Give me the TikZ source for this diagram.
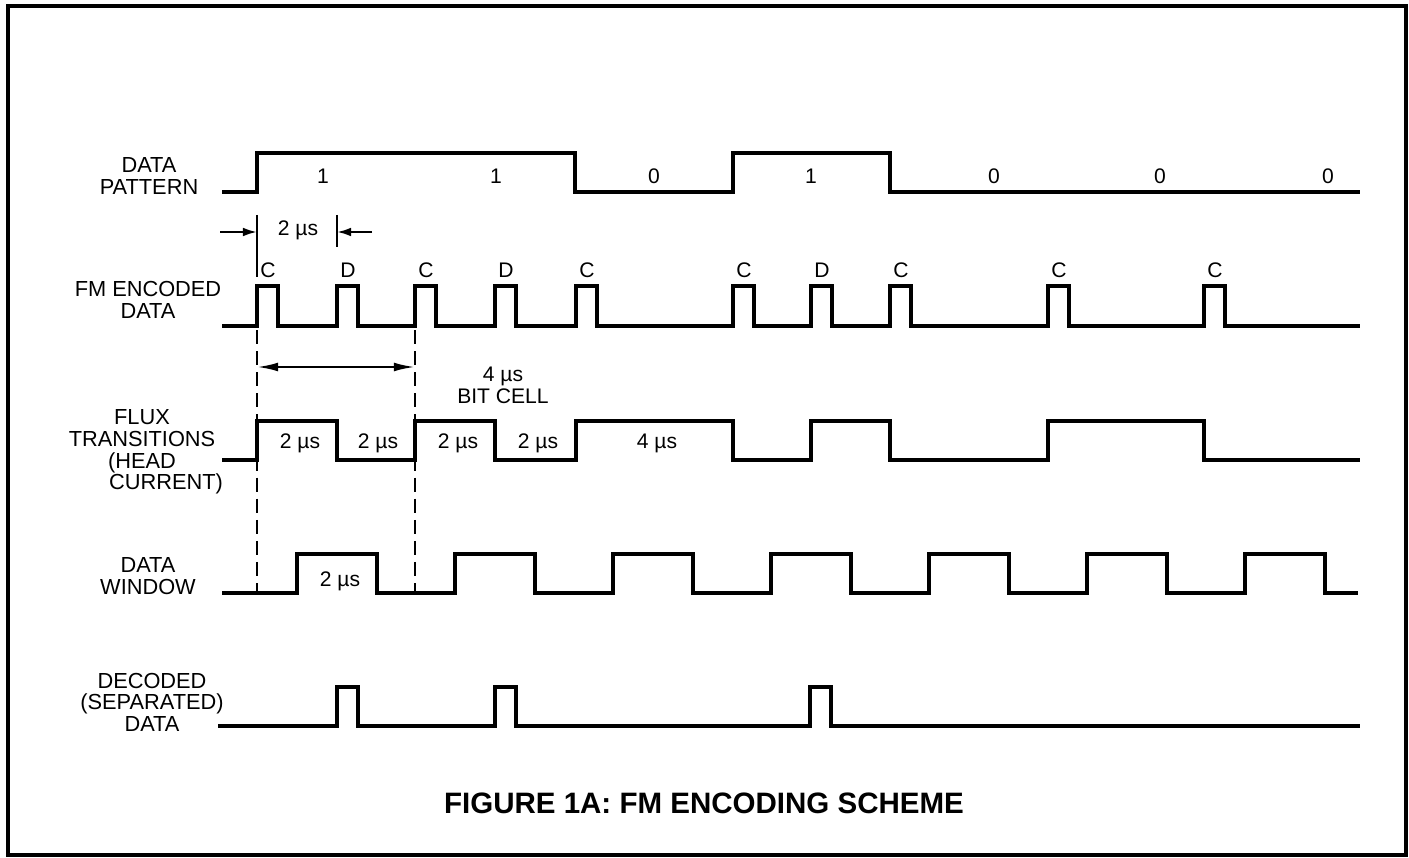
\documentclass[tikz,border=0pt]{standalone}
\usepackage{fontspec}
\setmainfont{Liberation Sans}
\usetikzlibrary{arrows.meta}

\begin{document}
\begin{tikzpicture}[
    x=0.02cm, y=-0.02cm,
    every node/.style={font=\fontsize{12}{12.5}\selectfont, inner sep=0pt},
    siglabel/.style={align=center, font=\fontsize{12.4}{12.3}\selectfont},
    wave/.style={line width=2pt, line join=miter},
    dim/.style={line width=1.3pt},
    cellline/.style={line width=1.6pt, dash pattern=on 8pt off 4pt},
    title/.style={font=\fontsize{16.8}{18}\selectfont\bfseries}
]
    \useasboundingbox (0,0) rectangle (1409,858);
    \draw[line width=2pt] (8,6) rectangle (1406,855);

    % Signal names
    \node[siglabel] (pat) at (149,176) {DATA\\PATTERN};
    \node[siglabel] (fm) at (148,300) {FM ENCODED\\DATA};
    \node[siglabel] (flux) at (142,452) {FLUX\\TRANSITIONS\\(HEAD\\\hspace*{2.2em}CURRENT)};
    \node[siglabel] (win) at (148,576) {DATA\\WINDOW};
    \node[siglabel] (dec) at (152,702) {DECODED\\(SEPARATED)\\DATA};

    % Data pattern
    \draw[wave] (222,192) -| (257,153) -| (575,192) -| (733,153) -| (890,192) -- (1360,192);
    \foreach \x/\b in {323/1,496/1,654/0,811/1,994/0,1160/0,1328/0}
        \node (bit\x) at (\x,176) {\b};

    % FM encoded data
    \draw[wave] (222,326) foreach \x in {257,337,415,495,576,733,811,890,1048,1204} { -| (\x,286) -| (\x+21,326) } -- (1360,326);
    \foreach \x/\t in {257/C,337/D,415/C,495/D,576/C,733/C,811/D,890/C,1048/C,1204/C}
        \node (cd\x) at (\x+11,270) {\t};

    % 2 us spacing
    \draw[dim] (257,215) -- (257,277);
    \draw[dim] (337,215) -- (337,247);
    \draw[dim, -{Latex[length=8pt,width=5pt]}] (220,232) -- (257,232);
    \draw[dim, -{Latex[length=8pt,width=5pt]}] (372,232) -- (337,232);
    \node (half) at (298,230) {2 µs};

    % Bit cell
    \coordinate (cA) at (257,330);
    \coordinate (cB) at (415,330);
    \draw[cellline] (cA) -- (257,593);
    \draw[cellline] (cB) -- (415,593);
    \draw[dim, {Latex[length=12pt,width=5pt]}-{Latex[length=12pt,width=5pt]}] (257,367) -- (415,367);
    \node[align=center] (cell) at (503,385) {4 µs\\BIT CELL};

    % Flux transitions
    \draw[wave] (222,460) -| (257,421) -| (337,460) -| (415,421) -| (495,460) -| (576,421) -| (733,460) -| (811,421) -| (890,460) -| (1048,421) -| (1204,460) -- (1360,460);
    \foreach \x in {300,378,458,538}
        \node (fx\x) at (\x,443) {2 µs};
    \node (fx4) at (657,443) {4 µs};

    % Data window
    \draw[wave] (222,593) foreach \x in {297,455,...,1245} { -| (\x,554) -| (\x+80,593) } -- (1358,593);
    \node (wn) at (340,581) {2 µs};

    % Decoded data
    \draw[wave] (218,726) foreach \x in {337,495,810} { -| (\x,687) -| (\x+21,726) } -- (1360,726);

    % Caption
    \node[title] (fig) at (704,803) {FIGURE 1A: FM ENCODING SCHEME};
\end{tikzpicture}
\end{document}
